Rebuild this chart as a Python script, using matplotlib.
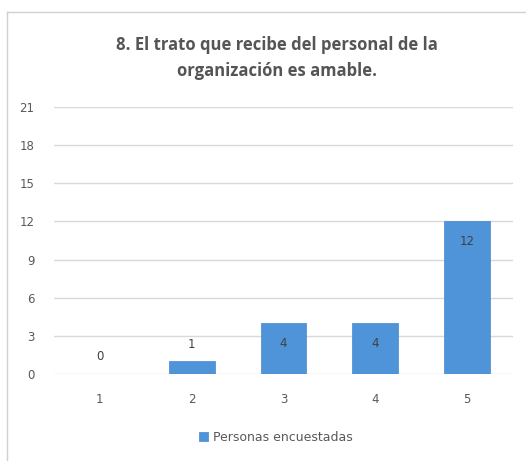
import matplotlib.pyplot as plt
from matplotlib.lines import Line2D

categorias = ["1", "2", "3", "4", "5"]
valores = [0, 1, 4, 4, 12]
serie = "Personas encuestadas"
titulo = "8. El trato que recibe del personal de la\norganización es amable."
yticks = [0, 3, 6, 9, 12, 15, 18, 21]

W, H = 526, 461
fig = plt.figure(figsize=(W / 100, H / 100), dpi=100)
fig.patch.set_facecolor("white")

# chart border (top and left visible)
fig.add_artist(Line2D([7 / W, 7 / W], [0, 1 - 12 / H], color="#D0D0D0", lw=1))
fig.add_artist(Line2D([7 / W, 1], [1 - 12 / H, 1 - 12 / H], color="#D0D0D0", lw=1))

ax = fig.add_axes([54 / W, (H - 374) / H, (513 - 54) / W, (374 - 107) / H])
x = range(len(categorias))
bars = ax.bar(x, valores, width=0.5, color="#4F93D8", edgecolor="#4388D0", lw=0.5, zorder=3)

ax.set_ylim(0, 21)
ax.set_xlim(-0.5, len(categorias) - 0.5)
ax.set_yticks(yticks)
ax.set_xticks(list(x))
ax.set_xticklabels(categorias)
ax.grid(axis="y", color="#D9D9D9", lw=1, zorder=0)
for s in ax.spines.values():
    s.set_visible(False)
ax.tick_params(length=0, colors="#595959", labelsize=8.5)
ax.tick_params(axis="y", pad=14)
ax.tick_params(axis="x", pad=14)

for xi, v in zip(x, valores):
    if v >= 3:
        ax.text(xi, v - 1.6, str(v), ha="center", va="center", fontsize=8.5, color="#404040", zorder=4)
    else:
        ax.text(xi, v + 1.35, str(v), ha="center", va="center", fontsize=8.5, color="#404040", zorder=4)

fig.text(277 / W, 1 - 58 / H, titulo, ha="center", va="center", fontsize=12, fontweight="bold",
         color="#555555", linespacing=1.5, family="Open Sans")

leg = fig.legend([bars], [serie], loc="center", bbox_to_anchor=(0.525, 1 - 437 / H),
                 frameon=False, fontsize=9, handlelength=0.7, handleheight=0.7,
                 handletextpad=0.4, labelcolor="#595959")

fig.savefig("out.png", dpi=100)
